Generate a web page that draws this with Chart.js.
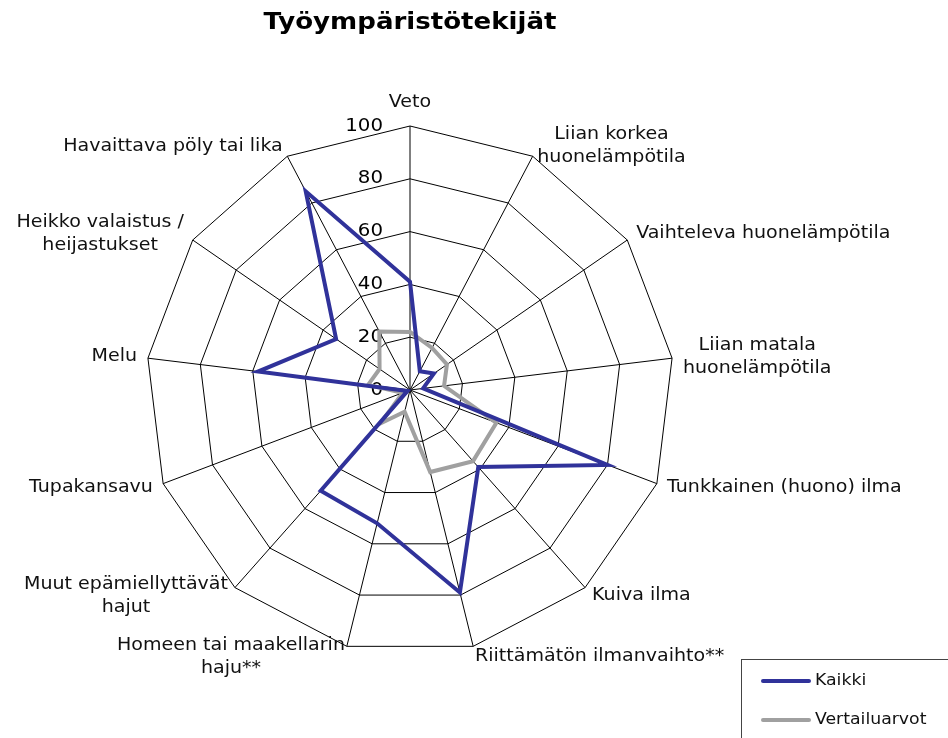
<!DOCTYPE html>
<html><head><meta charset="utf-8">
<script src="https://cdn.jsdelivr.net/npm/chart.js@4.4.0/dist/chart.umd.min.js"></script>
<style>html,body{margin:0;padding:0;background:#fff;overflow:hidden}canvas{display:block}</style>
</head><body>
<canvas id="c" width="948" height="738"></canvas>
<script>
const chartTitle = 'Työympäristötekijät';
const categories = [
  ['Veto'],
  ['Liian korkea', 'huonelämpötila'],
  ['Vaihteleva huonelämpötila'],
  ['Liian matala', 'huonelämpötila'],
  ['Tunkkainen (huono) ilma'],
  ['Kuiva ilma'],
  ['Riittämätön ilmanvaihto**'],
  ['Homeen tai maakellarin', 'haju**'],
  ['Muut epämiellyttävät', 'hajut'],
  ['Tupakansavu'],
  ['Melu'],
  ['Heikko valaistus /', 'heijastukset'],
  ['Havaittava pöly tai lika']
];
const seriesNames = ['Kaikki', 'Vertailuarvot'];
const kaikki = [41, 8, 11, 5, 80, 39, 79, 52, 51, 1, 58, 34, 85];
const vertailuarvot = [22, 18, 17, 13, 35, 36, 32, 8.5, 17, 3, 16, 14, 25];
const tickValues = [0, 20, 40, 60, 80, 100];

const BLUE = '#30329a';
const GREY = '#a0a0a0';
const SX = 1.12;
const FONT = '"DejaVu Sans", Verdana, sans-serif';

function sText(ctx, text, x, y, align, font, color, sx) {
  ctx.save();
  ctx.font = font; ctx.fillStyle = color;
  ctx.textBaseline = 'middle'; ctx.textAlign = align;
  ctx.translate(x, y); ctx.scale(sx, 1);
  ctx.fillText(text, 0, 0);
  ctx.restore();
}

const decor = {
  id: 'decor',
  beforeDatasetsDraw(chart) {
    const ctx = chart.ctx, s = chart.scales.r;
    tickValues.forEach(v => {
      const y = s.yCenter - s.getDistanceFromCenterForValue(v);
      sText(ctx, String(v), s.xCenter - 27, y, 'right', '18px ' + FONT, '#000', 1.1);
    });
  },
  afterDraw(chart) {
    const ctx = chart.ctx, s = chart.scales.r;
    const n = categories.length;
    const lf = '17px ' + FONT;
    const lh = 23;
    ctx.save();
    ctx.font = lf;
    categories.forEach((lines, k) => {
      const th = (k / n) * Math.PI * 2;
      const sn = Math.sin(th), cs = Math.cos(th);
      const p = s.getPointPosition(k, s.drawingArea);
      const w = Math.max(...lines.map(t => ctx.measureText(t).width)) * SX;
      const h = lines.length * lh;
      let cx, cy;
      if (k === 0) {
        cx = p.x; cy = p.y - 13 - h / 2 + 1;
      } else {
        const gap = 12 * Math.abs(sn) - 1;
        cx = sn > 0 ? p.x + gap + w / 2 : p.x - gap - w / 2;
        cy = p.y - 11 * cs;
      }
      lines.forEach((t, i) => {
        const y = cy - h / 2 + lh / 2 + i * lh;
        sText(ctx, t, cx, y, 'center', lf, '#111', SX);
      });
    });
    ctx.restore();

    // title
    sText(ctx, chartTitle, 410, 23, 'center', 'bold 23.7px ' + FONT, '#000', SX - 0.02);

    // legend
    ctx.save();
    ctx.strokeStyle = '#444'; ctx.lineWidth = 1;
    ctx.strokeRect(741.5, 659.5, 300, 120);
    const cols = [BLUE, GREY];
    const ys = [681, 720];
    seriesNames.forEach((name, i) => {
      ctx.beginPath();
      ctx.strokeStyle = cols[i]; ctx.lineWidth = 4; ctx.lineCap = 'round';
      ctx.moveTo(763, ys[i]); ctx.lineTo(809, ys[i]); ctx.stroke();
      sText(ctx, name, 815, ys[i], 'left', '16px ' + FONT, '#111', 1.08);
    });
    ctx.restore();
  }
};

new Chart(document.getElementById('c'), {
  type: 'radar',
  data: {
    labels: categories,
    datasets: [
      { label: seriesNames[0], data: kaikki, borderColor: BLUE, borderWidth: 4, fill: false, pointRadius: 0, pointHoverRadius: 0, tension: 0 },
      { label: seriesNames[1], data: vertailuarvot, borderColor: GREY, borderWidth: 4, fill: false, pointRadius: 0, pointHoverRadius: 0, tension: 0 }
    ]
  },
  options: {
    responsive: false,
    animation: false,
    devicePixelRatio: 1,
    layout: { padding: { left: 146, top: 126, right: 274, bottom: 84 } },
    plugins: { legend: { display: false }, title: { display: false }, tooltip: { enabled: false } },
    elements: { line: { borderJoinStyle: 'miter' } },
    scales: {
      r: {
        min: 0, max: 100,
        ticks: { display: false, stepSize: 20 },
        pointLabels: { display: false },
        grid: { color: '#000', lineWidth: 1, circular: false },
        angleLines: { display: true, color: '#000', lineWidth: 1 }
      }
    }
  },
  plugins: [decor]
});
</script>
</body></html>
